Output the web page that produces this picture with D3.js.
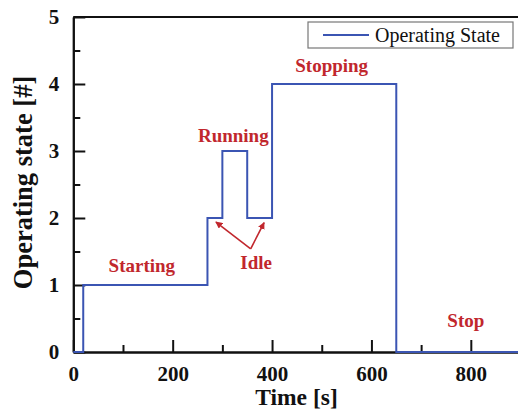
<!DOCTYPE html>
<html>
<head>
<meta charset="utf-8">
<script src="https://cdn.jsdelivr.net/npm/d3@7"></script>
<style>
  html, body { margin: 0; padding: 0; background: #fff; }
  svg { display: block; }
  text { font-family: "Liberation Serif", "Times New Roman", serif; }
</style>
</head>
<body>
<svg id="chart" width="518" height="412"></svg>
<script>
// Operating-state sequence: state holds from each time until the next one
const times  = [0, 20, 270, 300, 350, 400, 650, 900];
const states = [0, 1, 2, 3, 2, 4, 0, 0];

const xMajorTicks = [0, 200, 400, 600, 800];
const xMinorTicks = [100, 300, 500, 700, 900];
const yMajorTicks = [0, 1, 2, 3, 4, 5];
const yMinorTicks = [0.5, 1.5, 2.5, 3.5, 4.5];

// Phase annotations, placed in data units (time, state)
const phaseLabels = ["Starting", "Running", "Stopping", "Stop"];
const phaseTimes  = [138, 322, 520, 790];
const phaseStates = [1.19, 3.13, 4.18, 0.37];

// "Idle" callout: label anchor, arrow origin and the two idle plateaus it points to
const idleLabel = "Idle";
const idlePos = [368, 1.24];
const idleApex = [357, 1.54];
const idleTargets = [[287, 1.94], [384, 1.93]];

const svg = d3.select("#chart");
const xScale = d3.scaleLinear().domain([0, 900]).range([73.3, 520.5]);
const yScale = d3.scaleLinear().domain([0, 5]).range([352, 17]);

const red = "#c1272d";
const blue = "#3b55b3";

// Arrow marker for the callout
svg.append("defs").append("marker")
  .attr("id", "arrow")
  .attr("viewBox", "0 0 10 10")
  .attr("refX", 9).attr("refY", 5)
  .attr("markerWidth", 7).attr("markerHeight", 7)
  .attr("markerUnits", "userSpaceOnUse")
  .attr("orient", "auto")
  .append("path")
  .attr("d", "M0,0 L10,5 L0,10 z")
  .attr("fill", red);

// Axes (inward ticks)
const xAxisMajor = d3.axisBottom(xScale).tickValues(xMajorTicks).tickSizeInner(-12).tickSizeOuter(0).tickPadding(14).tickFormat(d3.format("d"));
const xAxisMinor = d3.axisBottom(xScale).tickValues(xMinorTicks).tickSizeInner(-7).tickSizeOuter(0).tickFormat("");
const yAxisMajor = d3.axisLeft(yScale).tickValues(yMajorTicks).tickSizeInner(-12).tickSizeOuter(0).tickPadding(14).tickFormat(d3.format("d"));
const yAxisMinor = d3.axisLeft(yScale).tickValues(yMinorTicks).tickSizeInner(-7).tickSizeOuter(0).tickFormat("");

function styleAxis(g) {
  g.attr("font-family", null).attr("font-size", null);
  g.selectAll(".domain").attr("stroke", "#111").attr("stroke-width", 2);
  g.selectAll(".tick line").attr("stroke", "#111").attr("stroke-width", 2);
  g.selectAll(".tick text")
    .attr("fill", "#111")
    .attr("font-weight", "bold")
    .attr("font-size", 21);
}

const gx = svg.append("g").attr("transform", `translate(0,${yScale(0)})`);
gx.append("g").call(xAxisMinor).call(styleAxis);
gx.append("g").call(xAxisMajor).call(styleAxis);

const gy = svg.append("g").attr("transform", `translate(${xScale(0)},0)`);
gy.append("g").call(yAxisMinor).call(styleAxis);
gy.append("g").call(yAxisMajor).call(styleAxis);

// Top frame line
svg.append("line")
  .attr("x1", xScale(0)).attr("x2", xScale(900))
  .attr("y1", yScale(5)).attr("y2", yScale(5))
  .attr("stroke", "#111").attr("stroke-width", 2);

// Axis titles
svg.append("text")
  .attr("x", 296.5).attr("y", 405)
  .attr("text-anchor", "middle")
  .attr("font-weight", "bold").attr("font-size", 23.5)
  .attr("fill", "#111")
  .text("Time [s]");

svg.append("text")
  .attr("transform", "translate(32,182.5) rotate(-90)")
  .attr("text-anchor", "middle")
  .attr("font-weight", "bold").attr("font-size", 26.5)
  .attr("fill", "#111")
  .text("Operating state [#]");

// State trace
const data = times.map((t, i) => ({ t, s: states[i] }));
const line = d3.line()
  .x(d => xScale(d.t))
  .y(d => yScale(d.s))
  .curve(d3.curveStepAfter);

svg.append("path")
  .datum(data)
  .attr("d", line)
  .attr("fill", "none")
  .attr("stroke", blue)
  .attr("stroke-width", 2);

// Phase labels
svg.selectAll(".phase")
  .data(phaseLabels)
  .enter().append("text")
  .attr("class", "phase")
  .attr("x", (d, i) => xScale(phaseTimes[i]))
  .attr("y", (d, i) => yScale(phaseStates[i]))
  .attr("text-anchor", "middle")
  .attr("font-weight", "bold").attr("font-size", 19)
  .attr("fill", red)
  .text(d => d);

// Idle callout
svg.append("text")
  .attr("x", xScale(idlePos[0]))
  .attr("y", yScale(idlePos[1]))
  .attr("text-anchor", "middle")
  .attr("font-weight", "bold").attr("font-size", 19)
  .attr("fill", red)
  .text(idleLabel);

svg.selectAll(".idle-arrow")
  .data(idleTargets)
  .enter().append("line")
  .attr("class", "idle-arrow")
  .attr("x1", xScale(idleApex[0])).attr("y1", yScale(idleApex[1]))
  .attr("x2", d => xScale(d[0])).attr("y2", d => yScale(d[1]))
  .attr("stroke", red).attr("stroke-width", 1.6)
  .attr("marker-end", "url(#arrow)");

// Legend
const legend = svg.append("g").attr("transform", "translate(308,22)");
legend.append("rect")
  .attr("width", 205).attr("height", 26)
  .attr("fill", "#fff").attr("stroke", "#777").attr("stroke-width", 1.2);
legend.append("line")
  .attr("x1", 15).attr("x2", 61).attr("y1", 13).attr("y2", 13)
  .attr("stroke", blue).attr("stroke-width", 2);
legend.append("text")
  .attr("x", 67).attr("y", 20)
  .attr("font-size", 20).attr("fill", "#111")
  .text("Operating State");
</script>
</body>
</html>
